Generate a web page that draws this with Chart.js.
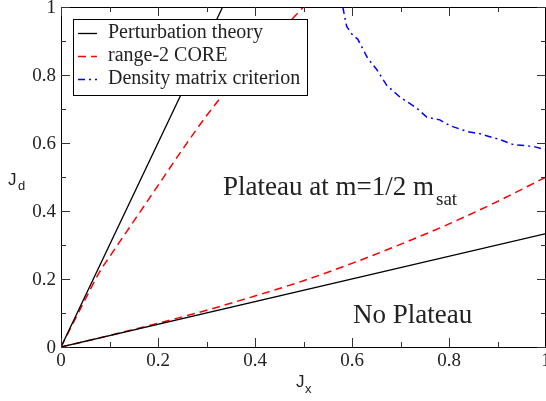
<!DOCTYPE html>
<html>
<head>
<meta charset="utf-8">
<script src="https://cdn.jsdelivr.net/npm/chart.js@4"></script>
<style>
  html, body { margin: 0; padding: 0; background: #fff; }
  #wrap { width: 546px; height: 401px; }
</style>
</head>
<body>
<div id="wrap"><canvas id="chart"></canvas></div>
<script>
// tick values and labels
const xTicks = [0, 0.2, 0.4, 0.6, 0.8, 1];
const xTickLabels = ["0", "0.2", "0.4", "0.6", "0.8", "1"];
const yTicks = [0, 0.2, 0.4, 0.6, 0.8, 1];
const yTickLabels = ["0", "0.2", "0.4", "0.6", "0.8", "1"];
const minorTicks = [0.1, 0.3, 0.5, 0.7, 0.9];

// perturbation theory (two branches)
const ptUpperX = [0, 0.3333];
const ptUpperY = [0, 1];
const ptLowerX = [0, 1];
const ptLowerY = [0, 0.3333];

// range-2 CORE (two branches)
const coreUpperX = [0, 0.05, 0.08, 0.1, 0.15, 0.2, 0.25, 0.3, 0.35, 0.4, 0.45, 0.5];
const coreUpperY = [0, 0.14, 0.222, 0.265, 0.37, 0.475, 0.58, 0.68, 0.77, 0.85, 0.925, 1.0];
const coreLowerX = [0, 0.1, 0.2, 0.3, 0.4, 0.5, 0.6, 0.7, 0.8, 0.9, 1.0];
const coreLowerY = [0, 0.034, 0.07, 0.108, 0.15, 0.195, 0.246, 0.302, 0.362, 0.428, 0.5];

// density matrix criterion
const dmX = [0.581, 0.589, 0.600, 0.612, 0.632, 0.651, 0.672, 0.699, 0.733, 0.754, 0.781, 0.802, 0.837, 0.864, 0.905, 0.933, 0.974, 1.0];
const dmY = [1.0, 0.943, 0.92, 0.905, 0.85, 0.816, 0.769, 0.735, 0.703, 0.676, 0.668, 0.651, 0.634, 0.627, 0.61, 0.595, 0.59, 0.58];

const legendItems = ["Perturbation theory", "range-2 CORE", "Density matrix criterion"];

const pts = (xs, ys) => xs.map((x, i) => ({ x, y: ys[i] }));

const SERIF = "'Liberation Serif', 'Times New Roman', serif";
const SANS = "'Liberation Sans', Arial, sans-serif";

const styles = [
  { color: "#000000", width: 1.3, dash: [] },
  { color: "#ff0000", width: 1.5, dash: [8, 5] },
  { color: "#0000ff", width: 1.5, dash: [7, 4, 2, 4] }
];

function lineSet(data, s, smooth) {
  return {
    data,
    borderColor: s.color,
    borderWidth: s.width,
    borderDash: s.dash,
    pointRadius: 0,
    fill: false,
    tension: 0,
    cubicInterpolationMode: smooth ? "monotone" : "default"
  };
}

const decorations = {
  id: "decorations",
  afterDraw(chart) {
    const ctx = chart.ctx;
    const xs = chart.scales.x, ys = chart.scales.y;
    const a = chart.chartArea;
    ctx.save();

    // frame
    ctx.strokeStyle = "#000";
    ctx.lineWidth = 1;
    ctx.setLineDash([]);
    ctx.strokeRect(Math.round(a.left) + 0.5, Math.round(a.top) + 0.5,
                   Math.round(a.right - a.left) - 1, Math.round(a.bottom - a.top));

    // ticks on all four sides, pointing in
    const tick = (v, len) => {
      const px = Math.round(xs.getPixelForValue(v)) + 0.5;
      const py = Math.round(ys.getPixelForValue(v)) + 0.5;
      ctx.beginPath();
      ctx.moveTo(px, a.bottom); ctx.lineTo(px, a.bottom - len);
      ctx.moveTo(px, a.top); ctx.lineTo(px, a.top + len);
      ctx.moveTo(a.left, py); ctx.lineTo(a.left + len, py);
      ctx.moveTo(a.right, py); ctx.lineTo(a.right - len, py);
      ctx.stroke();
    };
    ctx.strokeStyle = "#333";
    xTicks.forEach(v => tick(v, 9));
    minorTicks.forEach(v => tick(v, 5));

    // tick labels
    ctx.fillStyle = "#222";
    ctx.font = "19px " + SERIF;
    ctx.textAlign = "right";
    ctx.textBaseline = "middle";
    yTicks.forEach((v, i) => {
      ctx.fillText(yTickLabels[i], a.left - 5, ys.getPixelForValue(v) + 1.5);
    });
    ctx.textAlign = "center";
    ctx.textBaseline = "top";
    xTicks.forEach((v, i) => {
      ctx.fillText(xTickLabels[i], xs.getPixelForValue(v), a.bottom + 5);
    });

    // axis titles
    ctx.fillStyle = "#222";
    ctx.textAlign = "left";
    ctx.textBaseline = "alphabetic";
    ctx.font = "17px " + SANS;
    ctx.fillText("J", 296, 387);
    ctx.font = "13px " + SANS;
    ctx.fillText("x", 305, 393);
    ctx.font = "17px " + SANS;
    ctx.fillText("J", 8, 185);
    ctx.font = "13px " + SANS;
    ctx.fillText("d", 18, 190);

    // region annotations
    ctx.font = "27px " + SERIF;
    ctx.fillText("Plateau at m=1/2 m", 223, 195);
    ctx.font = "19px " + SERIF;
    ctx.fillText("sat", 436, 205);
    ctx.font = "27px " + SERIF;
    ctx.fillText("No Plateau", 353, 323);

    // legend box
    ctx.fillStyle = "#fff";
    ctx.fillRect(73, 19, 234, 76);
    ctx.strokeStyle = "#000";
    ctx.lineWidth = 1;
    ctx.strokeRect(73.5, 19.5, 234, 76);
    legendItems.forEach((label, i) => {
      const y = 33 + i * 23;
      const s = styles[i];
      ctx.strokeStyle = s.color;
      ctx.lineWidth = s.width;
      ctx.setLineDash(s.dash);
      ctx.beginPath();
      ctx.moveTo(78, y + 0.5);
      ctx.lineTo(97, y + 0.5);
      ctx.stroke();
      ctx.setLineDash([]);
      ctx.fillStyle = "#222";
      ctx.font = "20px " + SERIF;
      ctx.textBaseline = "alphabetic";
      ctx.fillText(label, 108, y + 4.5);
    });

    ctx.restore();
  }
};

new Chart(document.getElementById("chart"), {
  type: "line",
  data: {
    datasets: [
      lineSet(pts(ptUpperX, ptUpperY), styles[0], false),
      lineSet(pts(ptLowerX, ptLowerY), styles[0], false),
      lineSet(pts(coreUpperX, coreUpperY), styles[1], true),
      lineSet(pts(coreLowerX, coreLowerY), styles[1], true),
      lineSet(pts(dmX, dmY), styles[2], false)
    ]
  },
  options: {
    responsive: true,
    maintainAspectRatio: false,
    animation: false,
    layout: { padding: { left: 61, right: 0, top: 7, bottom: 54 } },
    plugins: { legend: { display: false }, tooltip: { enabled: false } },
    scales: {
      x: { type: "linear", min: 0, max: 1, display: false },
      y: { type: "linear", min: 0, max: 1, display: false }
    }
  },
  plugins: [decorations]
});
</script>
</body>
</html>
